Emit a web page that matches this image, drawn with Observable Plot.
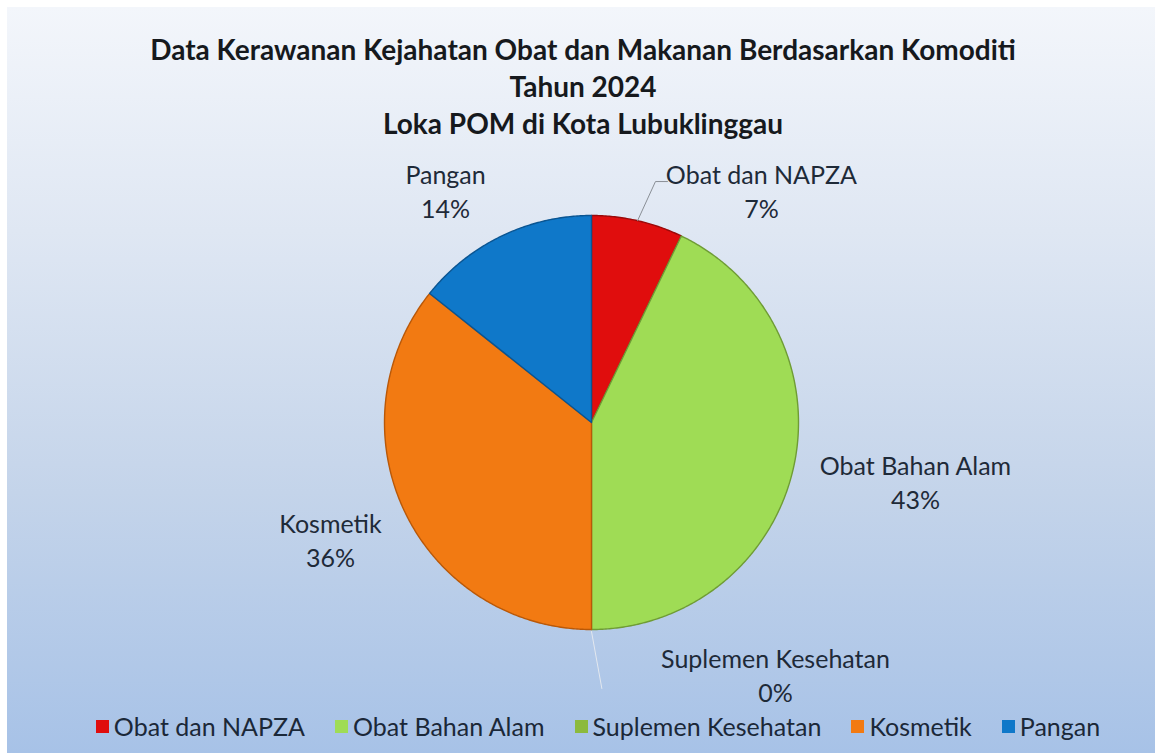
<!DOCTYPE html>
<html>
<head>
<meta charset="utf-8">
<script src="https://cdn.jsdelivr.net/npm/d3@7"></script>
<script src="https://cdn.jsdelivr.net/npm/@observablehq/plot@0.6"></script>
<style>
  html, body { margin: 0; padding: 0; background: #ffffff; }
  #page { position: relative; width: 1155px; height: 753px; overflow: hidden; background: #ffffff;
          font-family: Lato, "Open Sans", "DejaVu Sans", sans-serif; color: #1e2a38; }
  #bg { position: absolute; left: 7px; top: 7px; right: 0; bottom: 0;
        background: linear-gradient(to bottom, #f3f6fb 0%, #dfe7f3 30%, #c4d4ea 65%, #a7c2e7 100%); }
  #title { position: absolute; left: 0; top: 31px; width: 1166px; text-align: center;
           font-weight: 700; font-size: 28px; line-height: 37px; color: #16191d; }
  #chart { position: absolute; left: 0; top: 140px; }
  #legend { position: absolute; left: 0; width: 1196px; top: 713px; display: flex; justify-content: center;
            gap: 30px; font-size: 25px; line-height: 26px; color: #1b2838; }
  #legend .item { display: flex; align-items: center; gap: 5px; }
  #legend .sw { width: 13px; height: 13px; display: inline-block; }
</style>
</head>
<body>
<div id="page">
  <div id="bg"></div>
  <div id="title"></div>
  <div id="chart"></div>
  <div id="legend"></div>
</div>
<script>
// ---- data ----
const titleLines = [
  "Data Kerawanan Kejahatan Obat dan Makanan Berdasarkan Komoditi",
  "Tahun 2024",
  "Loka POM di Kota Lubuklinggau"
];
const categories = ["Obat dan NAPZA", "Obat Bahan Alam", "Suplemen Kesehatan", "Kosmetik", "Pangan"];
const counts = [1, 6, 0, 5, 2];
const percentLabels = ["7%", "43%", "0%", "36%", "14%"];
const sliceColors = ["#e00d0d", "#9fdc55", "#8cba3c", "#f27a12", "#0f78c9"];
const edgeColors  = ["#9a0a0a", "#6f9c35", "#5e8226", "#b95808", "#0a5592"];

// ---- layout (not data) ----
const W = 1155, H = 565;
const cx = 591, cy = 282, R = 207;          // pie centre/radius in svg px
// label block centres, in radius units relative to the pie centre (y up)
const labelPos = {
  "Obat dan NAPZA":     [0.821, 1.121],
  "Obat Bahan Alam":    [1.565, -0.285],
  "Suplemen Kesehatan": [0.889, -1.217],
  "Kosmetik":           [-1.261, -0.565],
  "Pangan":             [-0.705, 1.121]
};

document.getElementById("title").innerHTML = titleLines.map(t => `<div>${t}</div>`).join("");

// ---- build slices ----
const total = d3.sum(counts);
let acc = 0;
const slices = categories.map((c, i) => {
  const a0 = acc / total * 2 * Math.PI;
  acc += counts[i];
  const a1 = acc / total * 2 * Math.PI;
  return {category: c, value: counts[i], a0, a1, mid: (a0 + a1) / 2, i};
});

function slicePoints(s) {
  const pts = [{x: 0, y: 0}];
  const n = Math.max(2, Math.ceil((s.a1 - s.a0) / (Math.PI / 360)));
  for (let k = 0; k <= n; k++) {
    const a = s.a0 + (s.a1 - s.a0) * k / n;
    pts.push({x: Math.sin(a), y: Math.cos(a)});
  }
  pts.push({x: 0, y: 0});
  return pts;
}

const sliceMarks = slices.filter(s => s.value > 0).map(s =>
  Plot.line(slicePoints(s), {
    x: "x", y: "y", fill: sliceColors[s.i], stroke: edgeColors[s.i],
    strokeWidth: 1.4, strokeLinejoin: "round", curve: "linear"
  })
);

// leader lines (start on the rim at each slice's mid-angle)
const napza = slices[0];
const supl = slices[2];
const leaderNapza = [
  {x: Math.sin(napza.mid), y: Math.cos(napza.mid)},
  {x: 0.309, y: 1.164},
  {x: 0.367, y: 1.164}
];
const leaderSupl = [
  {x: Math.sin(supl.mid) * 1.01, y: Math.cos(supl.mid) * 1.01},
  {x: 0.05, y: -1.285}
];

const labelData = slices.map(s => ({
  text: `${s.category}\n${percentLabels[s.i]}`,
  x: labelPos[s.category][0],
  y: labelPos[s.category][1]
}));

const xDomain = [-cx / R, (W - cx) / R];
const yDomain = [-(H - cy) / R, cy / R];

const chart = Plot.plot({
  width: W, height: H, margin: 0,
  x: {domain: xDomain, range: [0, W]},
  y: {domain: yDomain, range: [H, 0]},
  axis: null,
  style: {background: "transparent", overflow: "visible"},
  marks: [
    ...sliceMarks,
    Plot.line(leaderNapza, {x: "x", y: "y", stroke: "#8a8f96", strokeWidth: 1}),
    Plot.line(leaderSupl, {x: "x", y: "y", stroke: "#e3e8ef", strokeWidth: 1}),
    Plot.text(labelData, {
      x: "x", y: "y", text: "text", fontSize: 25, lineHeight: 1.36,
      fill: "#1e2a38", fontFamily: "Lato, 'Open Sans', sans-serif", textAnchor: "middle"
    })
  ]
});
document.getElementById("chart").appendChild(chart);

// ---- legend ----
document.getElementById("legend").innerHTML = categories.map((c, i) =>
  `<div class="item"><span class="sw" style="background:${sliceColors[i]}"></span><span>${c}</span></div>`
).join("");
</script>
</body>
</html>
